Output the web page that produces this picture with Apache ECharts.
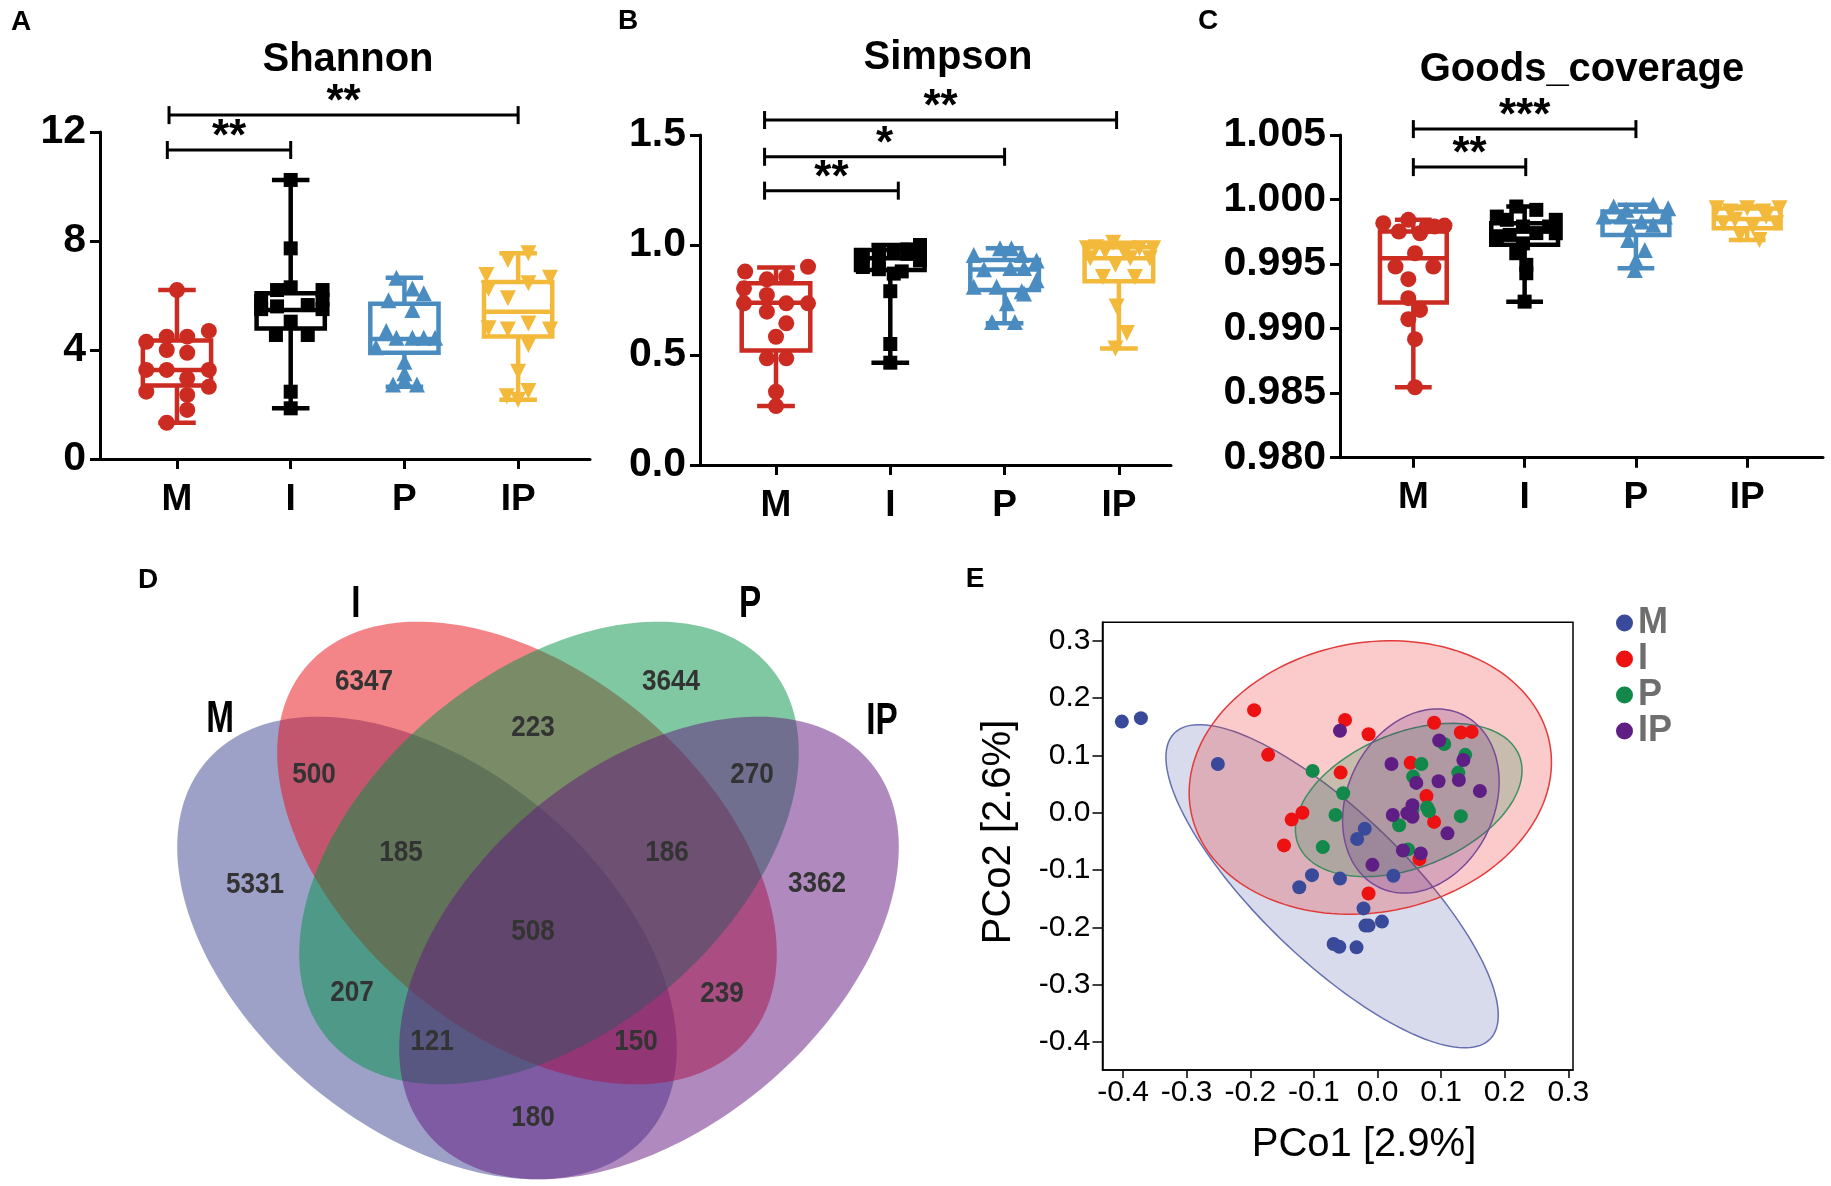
<!DOCTYPE html>
<html><head><meta charset="utf-8">
<script src="https://cdn.jsdelivr.net/npm/echarts@6/dist/echarts.min.js"></script>
<style>html,body{margin:0;padding:0;background:#fff}#c{width:1831px;height:1186px}</style>
</head><body><div id="c"></div>
<script>
// ---------------- DATA ----------------
const groups = ['M', 'I', 'P', 'IP'];

// Shannon: points [x-jitter, value]; box [min, q1, median, q3, max]
const shannonM = [[0,6.2],[-0.27,4.3],[-0.09,4.49],[0.09,4.49],[0.28,4.7],[-0.09,4.0],[0.09,3.9],[-0.27,3.27],[-0.09,3.27],[0.09,2.96],[0.28,3.27],[-0.27,2.47],[0.09,2.35],[0.28,2.65],[0.09,1.8],[-0.09,1.33]];
const shannonI = [[0,10.24],[0,7.73],[-0.12,6.2],[0,6.3],[0.28,6.2],[-0.26,5.8],[0.28,5.85],[-0.26,5.5],[-0.12,5.6],[0.15,5.65],[0.28,5.5],[0,5.04],[-0.13,4.55],[0.15,4.55],[0,2.47],[0,1.86]];
const shannonP = [[-0.07,6.65],[0.07,6.26],[0.17,6.08],[-0.14,5.83],[0.07,5.47],[-0.16,4.7],[-0.07,4.45],[0.07,4.45],[0.17,4.45],[0.27,4.45],[-0.25,4.1],[0,3.57],[0,3.15],[-0.1,2.73],[0.11,2.73],[0,2.9]];
const shannonIP = [[0.09,7.55],[-0.09,7.3],[-0.28,6.75],[0.28,6.65],[0.09,6.45],[-0.26,6.25],[-0.09,5.9],[0.09,4.97],[-0.26,4.8],[-0.09,4.75],[0.28,4.75],[0.09,4.18],[0,3.2],[-0.1,2.3],[0.09,2.5],[0,2.17]];
const shannonBox = [[1.33,2.7,3.27,4.35,6.2],[1.86,4.79,5.47,6.08,10.24],[2.65,3.9,4.4,5.7,6.65],[2.17,4.5,5.4,6.5,7.55]];
const shannonSig = [[-0.085,1,11.34,'**'],[-0.07,3,12.62,'**']];

const simpsonM = [[-0.27,0.879],[0.28,0.901],[-0.08,0.844],[0.09,0.856],[-0.28,0.803],[-0.08,0.773],[-0.28,0.735],[0.09,0.735],[0.28,0.735],[-0.08,0.697],[0.09,0.644],[0,0.583],[-0.08,0.485],[0.09,0.485],[0,0.333],[0,0.268]];
const simpsonI = [[0.26,1.0],[0.26,0.985],[0.15,0.98],[0.03,0.97],[-0.1,0.97],[-0.24,0.95],[0.15,0.96],[-0.1,0.93],[0.26,0.93],[-0.24,0.9],[-0.1,0.89],[0.03,0.87],[0.1,0.88],[0,0.79],[0,0.55],[0,0.465]];
const simpsonP = [[-0.04,0.985],[0.06,0.985],[-0.27,0.955],[0.15,0.955],[0.05,0.895],[0.17,0.895],[-0.18,0.89],[0.28,0.84],[-0.07,0.81],[-0.27,0.81],[0.17,0.78],[0.15,0.79],[0.02,0.735],[-0.11,0.65],[0.09,0.65],[0.28,0.93]];
const simpsonIP = [[-0.05,1.01],[-0.28,0.985],[0.3,0.985],[0.18,0.985],[0.05,0.965],[-0.25,0.94],[0.27,0.94],[-0.03,0.91],[-0.14,0.855],[0.14,0.855],[-0.02,0.72],[0.07,0.6],[-0.03,0.53],[-0.12,0.97],[0.1,0.94],[-0.2,0.99]];
const simpsonBox = [[0.268,0.52,0.738,0.826,0.898],[0.465,0.886,0.94,0.977,1.0],[0.644,0.795,0.889,0.932,0.985],[0.53,0.835,0.94,0.99,1.01]];
const simpsonSig = [[-0.1,1.07,1.247,'**'],[-0.1,2.0,1.401,'*'],[-0.1,2.98,1.568,'**']];

const goodsM = [[-0.27,0.99817],[-0.045,0.99843],[0.28,0.99798],[-0.13,0.99752],[0.06,0.99739],[0.19,0.99791],[0.12,0.99791],[0.015,0.99584],[-0.16,0.99481],[0.18,0.99481],[-0.045,0.99383],[-0.045,0.99236],[0.06,0.99145],[-0.045,0.99073],[0.015,0.98918],[0.015,0.98546]];
const goodsI = [[-0.075,0.99946],[0.105,0.9992],[-0.25,0.99868],[0.28,0.99843],[-0.16,0.99843],[-0.015,0.99791],[0.22,0.99791],[-0.135,0.99726],[0.28,0.99739],[0.105,0.9974],[-0.25,0.9971],[-0.015,0.9966],[-0.075,0.99584],[0.015,0.99494],[0.015,0.99429],[0,0.99209]];
const goodsP = [[-0.2,0.99946],[0.155,0.99959],[0.29,0.99933],[-0.085,0.9992],[-0.13,0.99868],[-0.29,0.99868],[0.26,0.99868],[0.05,0.9983],[0.155,0.99804],[-0.055,0.99778],[-0.07,0.99687],[0.08,0.9961],[0,0.9953],[-0.01,0.99455]];
const goodsIP = [[-0.275,0.99933],[0,0.99933],[0.29,0.99933],[-0.155,0.99907],[0.145,0.99907],[0.17,0.99868],[-0.11,0.99843],[-0.215,0.99817],[0.26,0.99817],[0.05,0.99791],[-0.065,0.99726],[0.11,0.99687]];
const goodsBox = [[0.98546,0.99202,0.99546,0.99752,0.99843],[0.99209,0.99649,0.99752,0.99816,0.99946],[0.99468,0.99726,0.9983,0.99907,0.99959],[0.99687,0.99778,0.9985,0.9993,0.99946]];
const goodsSig = [[0,1.01,1.002512,'**'],[0,2.0,1.005457,'***']];
const goodsTicks = [0.98,0.985,0.99,0.995,1.0,1.005];

// Venn counts
const vennSets = ['M','I','P','IP'];
const vennRegions = ['M','I','P','IP','M&I','I&P','P&IP','M&I&P','I&P&IP','M&I&P&IP','M&P','I&IP','M&P&IP','M&I&IP','M&IP'];
const vennCounts = [5331,6347,3644,3362,500,223,270,185,186,508,207,239,121,150,180];

// PCoA points [PCo1, PCo2]
const pcoaM = [[-0.402,0.159],[-0.372,0.165],[-0.251,0.085],[-0.020,-0.028],[-0.032,-0.046],[-0.103,-0.109],[-0.123,-0.130],[-0.059,-0.115],[0.025,-0.110],[-0.022,-0.167],[-0.019,-0.197],[-0.014,-0.197],[0.007,-0.190],[-0.069,-0.229],[-0.060,-0.234],[-0.033,-0.235]];
const pcoaI = [[-0.194,0.179],[-0.051,0.162],[-0.014,0.137],[-0.172,0.101],[-0.058,0.070],[0.089,0.157],[0.131,0.140],[0.148,0.141],[0.052,0.087],[0.077,0.029],[0.089,-0.016],[-0.118,0.0],[-0.135,-0.012],[-0.147,-0.057],[0.066,-0.081],[-0.014,-0.141]];
const pcoaP = [[-0.102,0.073],[-0.054,0.034],[-0.066,-0.004],[-0.086,-0.060],[0.069,0.085],[0.056,0.063],[0.105,0.120],[0.138,0.101],[0.127,0.070],[0.078,0.009],[0.081,0.003],[0.034,-0.022],[0.131,-0.006],[0.048,-0.064],[0.055,0.005]];
const pcoaIP = [[-0.059,0.143],[0.097,0.126],[0.135,0.092],[0.022,0.085],[0.061,0.052],[0.096,0.055],[0.128,0.057],[0.161,0.038],[0.055,0.013],[0.047,-0.001],[0.055,-0.007],[0.024,-0.004],[0.110,-0.036],[0.040,-0.066],[0.068,-0.071],[-0.008,-0.091]];
// confidence ellipses: [cx, cy, u1x, u1y, u2x, u2y] (data units)
const pcoaEllipseM = [-0.0714,-0.1283,0.2486,-0.2665,-0.0804,-0.0924];
const pcoaEllipseI = [-0.0113,0.0614,0.2821,0.0592,0.0394,-0.2312];
const pcoaEllipseP = [0.0491,0.0222,0.1737,0.0775,0.0395,-0.1090];
const pcoaEllipseIP = [0.0682,0.0204,0.0661,0.1505,0.1038,-0.0561];
const pcoaTicksX = [-0.4,-0.3,-0.2,-0.1,0.0,0.1,0.2,0.3];
const pcoaTicksY = [-0.4,-0.3,-0.2,-0.1,0.0,0.1,0.2,0.3];

// ---------------- LAYOUT / STYLE ----------------
const FONT = '"Liberation Sans", Arial, Helvetica, sans-serif';
const boxColors = ['#cc2b22','#000000','#4b8cc0','#f2b93b'];
const boxSymbols = ['circle','rect','triangle','triangle'];
const boxSymbolRotate = [0,0,0,180];
const boxSymbolSize = [16,14,16,16];
const BOX_W = 0.6, CAP_W = 0.33, BOX_LW = 4.5;

const pcoaColors = ['#3a4a9a','#ee1111','#12884a','#5e1e84'];
const pcoaFill = ['rgba(58,74,154,0.2)','rgba(238,17,17,0.22)','rgba(18,136,74,0.22)','rgba(94,30,132,0.22)'];
const pcoaStroke = ['#6670b0','#e23b3b','#3f8f60','#7a4a98'];

const vennFill = ['rgba(59,67,145,0.5)','rgba(232,12,20,0.5)','rgba(0,145,70,0.5)','rgba(97,21,125,0.5)'];
// ellipse layout in venn px units: [cx, cy, tilt]
const vennShapeLayout = [[-111,95,1],[-11,0,1],[11,0,-1],[111,95,-1]];
const vennA = 289, vennB = 180, vennAng = 40*Math.PI/180;
const vennSetLabelPos = [[-318,-133],[-182,-248],[212,-248],[344,-131]];
const vennCountPos = [[-283,32],[-174,-171],[133,-171],[279,31],[-224,-78],[-5,-125],[214,-78],[-137,0],[129,0],[-5,79],[-186,140],[184,141],[-106,189],[98,189],[-5,265]];

const panels = [
  {grid:{left:100, top:132, width:490, height:327}, xr:[-0.677,3.632], y:{min:0,max:12,interval:4}, fmt:v=>String(v),
   pts:[shannonM,shannonI,shannonP,shannonIP], box:shannonBox, sig:shannonSig},
  {grid:{left:700, top:135, width:471, height:330}, xr:[-0.665,3.456], y:{min:0,max:1.5,interval:0.5}, fmt:v=>v.toFixed(1),
   pts:[simpsonM,simpsonI,simpsonP,simpsonIP], box:simpsonBox, sig:simpsonSig},
  {grid:{left:1340, top:135, width:483, height:322.7}, xr:[-0.659,3.681], y:{min:0.98,max:1.005,custom:goodsTicks}, fmt:v=>v.toFixed(3),
   pts:[goodsM,goodsI,goodsP,goodsIP], box:goodsBox, sig:goodsSig}
];

const grids = [], xAxes = [], yAxes = [], series = [];
const axisLineStyle = {color:'#000', width:3};

panels.forEach((p, k) => {
  grids.push(Object.assign({containLabel:false}, p.grid));
  xAxes.push({gridIndex:k, type:'value', min:p.xr[0], max:p.xr[1],
    axisLine:{show:true, onZero:false, lineStyle:axisLineStyle},
    axisTick:{show:true, customValues:[0,1,2,3], length:10, lineStyle:axisLineStyle},
    axisLabel:{customValues:[0,1,2,3], formatter:v=>groups[Math.round(v)], fontSize:37, fontWeight:'bold', color:'#000', fontFamily:FONT, margin:22},
    splitLine:{show:false}});
  const ya = {gridIndex:k, type:'value', min:p.y.min, max:p.y.max,
    axisLine:{show:true, onZero:false, lineStyle:axisLineStyle},
    axisTick:{show:true, length:10, lineStyle:axisLineStyle},
    axisLabel:{formatter:p.fmt, fontSize:41, fontWeight:'bold', color:'#000', fontFamily:FONT, margin:14},
    splitLine:{show:false}};
  if (p.y.custom) { ya.axisTick.customValues = p.y.custom; ya.axisLabel.customValues = p.y.custom; }
  else ya.interval = p.y.interval;
  yAxes.push(ya);

  // boxes
  series.push({type:'custom', xAxisIndex:k, yAxisIndex:k, silent:true, z:2,
    encode:{x:0, y:[1,2,3,4,5]},
    data:p.box.map((b,i)=>[i].concat(b)),
    renderItem:(params, api)=>{
      const gi = api.value(0);
      const v = [1,2,3,4,5].map(i=>api.value(i));
      const c0 = api.coord([gi, v[2]]);
      const unit = api.coord([gi+1, v[2]])[0] - c0[0];
      const cx = c0[0], hw = unit*BOX_W/2, hc = unit*CAP_W/2;
      const Y = val => api.coord([gi, val])[1];
      const st = {stroke:boxColors[gi], lineWidth:BOX_LW, fill:null};
      return {type:'group', children:[
        {type:'line', shape:{x1:cx,y1:Y(v[4]),x2:cx,y2:Y(v[3])}, style:st},
        {type:'line', shape:{x1:cx,y1:Y(v[1]),x2:cx,y2:Y(v[0])}, style:st},
        {type:'line', shape:{x1:cx-hc,y1:Y(v[4]),x2:cx+hc,y2:Y(v[4])}, style:st},
        {type:'line', shape:{x1:cx-hc,y1:Y(v[0]),x2:cx+hc,y2:Y(v[0])}, style:st},
        {type:'rect', shape:{x:cx-hw, y:Y(v[3]), width:2*hw, height:Y(v[1])-Y(v[3])}, style:{stroke:boxColors[gi], lineWidth:BOX_LW, fill:'rgba(0,0,0,0)'}},
        {type:'line', shape:{x1:cx-hw,y1:Y(v[2]),x2:cx+hw,y2:Y(v[2])}, style:st}
      ]};
    }});
  // points
  p.pts.forEach((arr, gi) => {
    series.push({type:'scatter', name:'pts'+k+'_'+gi, xAxisIndex:k, yAxisIndex:k, z:3, silent:true,
      symbol:boxSymbols[gi], symbolRotate:boxSymbolRotate[gi], symbolSize:boxSymbolSize[gi],
      itemStyle:{color:boxColors[gi], opacity:1},
      data:arr.map(d=>[gi+d[0], d[1]])});
  });
  // significance brackets
  const sig = p.sig;
  series.push({type:'custom', xAxisIndex:k, yAxisIndex:k, silent:true, z:5, clip:false,
    encode:{x:[0,1], y:2},
    data:sig.map(s=>[s[0],s[1],s[2]]),
    renderItem:(params, api)=>{
      const y = api.value(2);
      const p1 = api.coord([api.value(0), y]), p2 = api.coord([api.value(1), y]);
      const st = {stroke:'#000', lineWidth:3};
      return {type:'group', children:[
        {type:'line', shape:{x1:p1[0],y1:p1[1],x2:p2[0],y2:p2[1]}, style:st},
        {type:'line', shape:{x1:p1[0],y1:p1[1]-9,x2:p1[0],y2:p1[1]+9}, style:st},
        {type:'line', shape:{x1:p2[0],y1:p2[1]-9,x2:p2[0],y2:p2[1]+9}, style:st},
        {type:'text', style:{text:sig[params.dataIndex][3], x:(p1[0]+p2[0])/2, y:p1[1]-12,
          fill:'#000', font:'bold 44px '+FONT, textAlign:'center', textVerticalAlign:'middle', align:'center', verticalAlign:'middle'}}
      ]};
    }});
});

// ---- Panel E: PCoA ----
const eIdx = 3;
grids.push({left:1102.5, top:622.3, width:470.5, height:447.7, show:true, borderColor:'#000', borderWidth:1.5});
const thin = {color:'#000', width:1.5};
xAxes.push({gridIndex:eIdx, type:'value', min:-0.4324, max:0.3074,
  axisLine:{show:true, onZero:false, lineStyle:thin},
  axisTick:{show:true, customValues:pcoaTicksX, length:8, lineStyle:thin},
  axisLabel:{customValues:pcoaTicksX, formatter:v=>v.toFixed(1), fontSize:30, color:'#000', fontFamily:FONT, margin:8},
  splitLine:{show:false}});
yAxes.push({gridIndex:eIdx, type:'value', min:-0.449, max:0.3323,
  axisLine:{show:true, onZero:false, lineStyle:thin},
  axisTick:{show:true, customValues:pcoaTicksY, length:10, lineStyle:thin},
  axisLabel:{customValues:pcoaTicksY, formatter:v=>v.toFixed(1), fontSize:30, color:'#000', fontFamily:FONT, margin:12},
  splitLine:{show:false}});
const ellipses = [pcoaEllipseM, pcoaEllipseI, pcoaEllipseP, pcoaEllipseIP];
series.push({type:'custom', xAxisIndex:eIdx, yAxisIndex:eIdx, silent:true, z:1, clip:false,
  data:ellipses.map(e=>[e[0],e[1]]),
  renderItem:(params, api)=>{
    const e = ellipses[params.dataIndex];
    const cx = api.value(0), cy = api.value(1);
    const pts = [];
    for (let k=0;k<160;k++){ const t = k/160*2*Math.PI;
      pts.push(api.coord([cx+e[2]*Math.cos(t)+e[4]*Math.sin(t), cy+e[3]*Math.cos(t)+e[5]*Math.sin(t)])); }
    return {type:'polygon', shape:{points:pts}, style:{fill:pcoaFill[params.dataIndex], stroke:pcoaStroke[params.dataIndex], lineWidth:1.5}};
  }});
[pcoaM,pcoaI,pcoaP,pcoaIP].forEach((arr, gi)=>{
  series.push({type:'scatter', name:groups[gi], xAxisIndex:eIdx, yAxisIndex:eIdx, z:3, silent:true,
    symbol:'circle', symbolSize:14, itemStyle:{color:pcoaColors[gi], opacity:1}, data:arr});
});

// ---- Panel D: Venn (px-unit coordinate system centred on symmetry axis) ----
const vIdx = 4;
grids.push({left:138, top:553, width:800, height:633});
xAxes.push({gridIndex:vIdx, type:'value', min:-400, max:400, show:false});
yAxes.push({gridIndex:vIdx, type:'value', min:-300, max:333, inverse:true, show:false});
series.push({type:'custom', xAxisIndex:vIdx, yAxisIndex:vIdx, silent:true, z:1, clip:false,
  data:vennSets.map((s,i)=>[vennShapeLayout[i][0], vennShapeLayout[i][1]]),
  renderItem:(params, api)=>{
    const i = params.dataIndex, tilt = vennShapeLayout[i][2];
    const cx = api.value(0), cy = api.value(1);
    const d1 = [tilt*Math.cos(vennAng), Math.sin(vennAng)], d2 = [-d1[1], d1[0]];
    const pts = [];
    for (let k=0;k<200;k++){ const t = k/200*2*Math.PI;
      const a = vennA*Math.cos(t), b = vennB*Math.sin(t);
      pts.push(api.coord([cx+a*d1[0]+b*d2[0], cy+a*d1[1]+b*d2[1]])); }
    return {type:'polygon', shape:{points:pts}, style:{fill:vennFill[i]}};
  }});
series.push({type:'custom', xAxisIndex:vIdx, yAxisIndex:vIdx, silent:true, z:4, clip:false,
  data:vennSets.map((s,i)=>vennSetLabelPos[i]),
  renderItem:(params, api)=>{
    const c = api.coord([api.value(0), api.value(1)]);
    return {type:'text', x:c[0], y:c[1], scaleX:0.74,
      style:{text:vennSets[params.dataIndex], x:0, y:0, fill:'#000', font:'bold 45px '+FONT, textAlign:'center', textVerticalAlign:'middle', align:'center', verticalAlign:'middle'}};
  }});
series.push({type:'custom', xAxisIndex:vIdx, yAxisIndex:vIdx, silent:true, z:4, clip:false,
  data:vennCounts.map((n,i)=>vennCountPos[i]),
  renderItem:(params, api)=>{
    const c = api.coord([api.value(0), api.value(1)]);
    return {type:'text', x:c[0], y:c[1], scaleX:0.9,
      style:{text:String(vennCounts[params.dataIndex]), x:0, y:0, fill:'#333', font:'bold 29px '+FONT, textAlign:'center', textVerticalAlign:'middle', align:'center', verticalAlign:'middle'}};
  }});

// ---- free texts ----
function txt(t, x, y, font, extra){ return Object.assign({type:'text', x:x, y:y, silent:true,
  style:{text:t, font:font, fill:'#000', textAlign:'center', textVerticalAlign:'middle'}}, extra||{}); }
const graphics = [
  txt('A', 21, 22, 'bold 28px '+FONT), txt('B', 628, 21, 'bold 28px '+FONT), txt('C', 1208, 21, 'bold 28px '+FONT),
  txt('D', 148, 580, 'bold 28px '+FONT), txt('E', 975, 579, 'bold 28px '+FONT),
  txt('Shannon', 348, 60, 'bold 40px '+FONT), txt('Simpson', 948, 58, 'bold 40px '+FONT), txt('Goods_coverage', 1582, 70, 'bold 40px '+FONT),
  txt('PCo1 [2.9%]', 1364, 1145, '40px '+FONT),
  txt('PCo2 [2.6%]', 999, 832, '40px '+FONT, {rotation:Math.PI/2})
];

const chart = echarts.init(document.getElementById('c'), null, {renderer:'canvas'});
chart.setOption({
  animation:false,
  backgroundColor:'#fff',
  grid:grids, xAxis:xAxes, yAxis:yAxes, series:series,
  legend:{data:groups, orient:'vertical', left:1611, top:600, itemWidth:17, itemHeight:17, itemGap:0, icon:'circle',
    selectedMode:false, textStyle:{fontSize:36, fontWeight:'bold', color:'#6e6e6e', fontFamily:FONT}},
  graphic:graphics
});
</script></body></html>
